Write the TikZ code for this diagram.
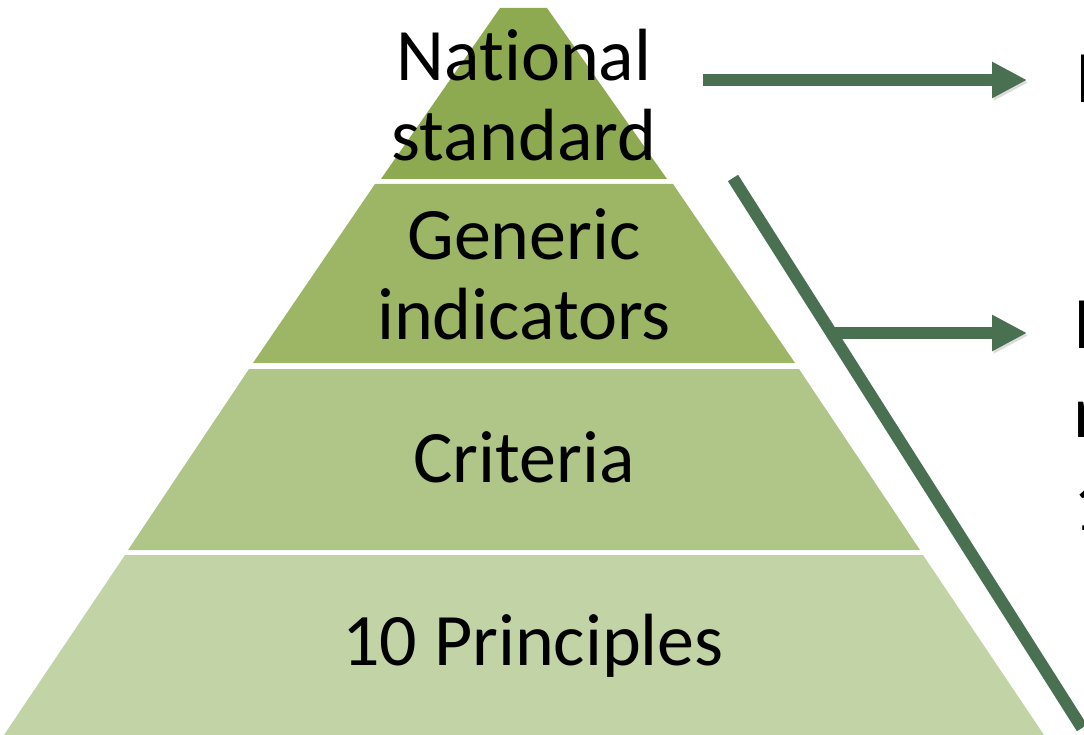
\documentclass[tikz,border=0pt]{standalone}
\usepackage{fontspec}
\setmainfont[Ligatures=NoCommon]{Carlito}
\usepackage{tikz}
\usetikzlibrary{arrows.meta}

\definecolor{layerA}{HTML}{8DAA50}
\definecolor{layerB}{HTML}{9CB665}
\definecolor{layerC}{HTML}{AFC688}
\definecolor{layerD}{HTML}{C2D3A5}
\definecolor{arrowgreen}{HTML}{4A7052}

\begin{document}
\begin{tikzpicture}[
x                       = 1pt,
y                       = -1pt,
every node/.style       = {font=\fontsize{74}{80}\selectfont, inner sep=0pt},
layertext/.style        = {align=center},
sidetext/.style         = {anchor=base west},
shadowed/.style         = {preaction={draw=black!30, opacity=0.45, transform canvas={shift={(1.5pt,-2.5pt)}}}},
pointer/.style          = {draw=arrowgreen, line width=12pt, -{Triangle[length=35pt,width=34pt]}, shadowed},
bracket/.style          = {draw=arrowgreen, line width=12pt, shadowed}
]

\useasboundingbox (0,0) rectangle (1084,735);

% pyramid layers
\fill[layerA] (500,8) -- (547,8) -- (667,179) -- (381,179) -- cycle;
\fill[layerB] (375,184) -- (673,184) -- (795,363) -- (253,363) -- cycle;
\fill[layerC] (249,369) -- (799,369) -- (920,550) -- (128,550) -- cycle;
\fill[layerD] (125,555) -- (923,555) -- (1044,735) -- (4,735) -- cycle;

\node [layertext] (national) at (524,95) {National\\standard};
\node [layertext] (generic) at (524,274) {Generic\\indicators};
\node [layertext, anchor=base] (criteria) at (524,482) {Criteria};
\node [layertext, anchor=base] (principles) at (533,665) {10 Principles};

% right side, cut off by the page edge
\node [sidetext] (topnote) at (1076,103) {F};
\node [sidetext] (lownote) at (1073,348) {I};
\node [sidetext] (lownoteb) at (1073,437) {n};
\node [sidetext] (lownotec) at (1073,530) {1};

\coordinate (natstart) at (703,80);
\coordinate (nattip) at (1027,80);
\coordinate (brtop) at (733,178);
\coordinate (brbottom) at (1082,728);
\coordinate (genstart) at (833,333);
\coordinate (gentip) at (1027,333);

\draw[pointer] (natstart) -- (nattip);
\draw[bracket] (brtop) -- (brbottom);
\draw[pointer] (genstart) -- (gentip);
\end{tikzpicture}
\end{document}
